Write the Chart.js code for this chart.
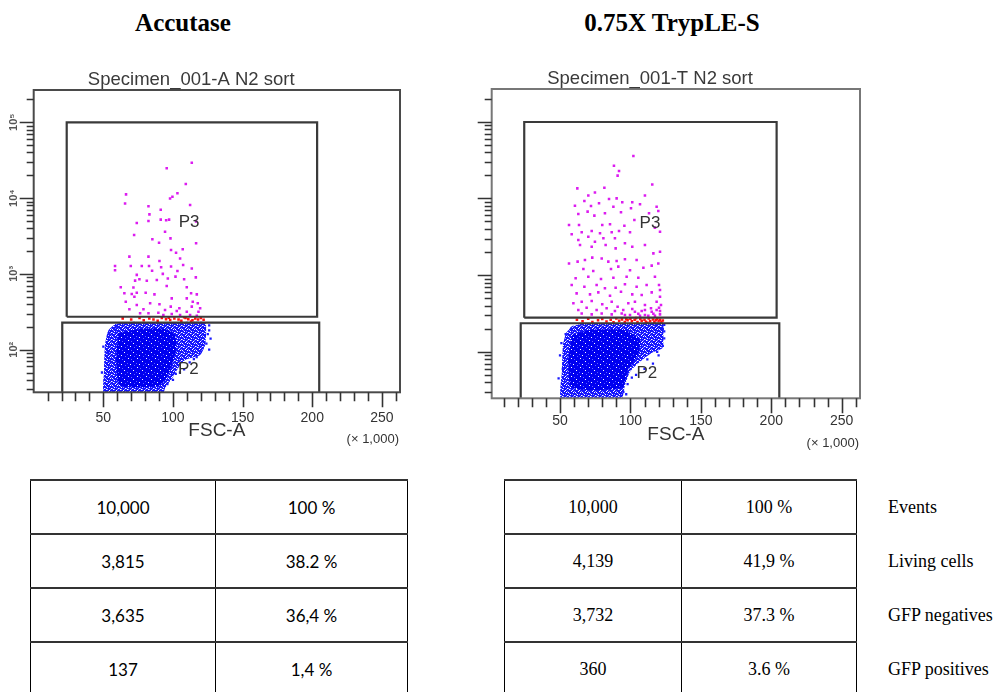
<!DOCTYPE html>
<html><head><meta charset="utf-8">
<script src="https://cdn.jsdelivr.net/npm/chart.js@4.4.1/dist/chart.umd.min.js"></script>
<style>
body{margin:0;width:1000px;height:692px;background:#fff;position:relative;overflow:hidden}
.hdr{position:absolute;top:9px;line-height:30px;font:bold 25px "Liberation Serif","Times New Roman",serif;transform:translateX(-50%);white-space:nowrap;color:#000}
canvas{position:absolute}
table{position:absolute;top:479px;border-collapse:collapse;table-layout:fixed}
tr{height:54px}
td{text-align:center;vertical-align:middle;padding:0;border-left:1px solid #000;border-right:1px solid #000;border-top:2px solid #333}
td.lab{border:none;text-align:left;padding-left:31px;font:18px "Liberation Serif",serif;white-space:nowrap}
#tA td{font:17px Lato,"Open Sans",sans-serif}
#tB td{font:18px "Liberation Serif",serif}
</style></head>
<body>
<div class="hdr" style="left:183px">Accutase</div>
<div class="hdr" style="left:672px">0.75X TrypLE-S</div>
<canvas id="cA" width="420" height="400" style="left:0;top:60px"></canvas>
<canvas id="cB" width="420" height="400" style="left:470px;top:60px"></canvas>
<table id="tA" style="left:30px;width:377px"><colgroup><col style="width:185px"><col style="width:192px"></colgroup><tbody></tbody></table>
<table id="tB" style="left:504px;width:496px"><colgroup><col style="width:177px"><col style="width:175px"><col style="width:144px"></colgroup><tbody></tbody></table>
<script>
// ---------- data ----------
const fscTicks = [50, 100, 150, 200, 250];
const decades = [10, 100, 1000, 10000, 100000];
const decadeLabels = ['10\u00B9', '10\u00B2', '10\u00B3', '10\u2074', '10\u2075'];

const accTitle = 'Specimen_001-A N2 sort';
const tryTitle = 'Specimen_001-T N2 sort';

const accX = [0, 263];
const accY = [27.4, 266700];
const tryX = [1.5, 263];
const tryY = [24.8, 266600];

// gates: [xMin, xMax, yMin, yMax]
const accP3 = [23.7, 203.5, 272, 100000];
const accP2 = [20.5, 205, 20, 227];
const tryP3 = [24.6, 203.8, 279, 99000];
const tryP2 = [22.1, 205.7, 20, 236];
const accGateLabels = [['P3', 111.6, 4840], ['P2', 111, 55.6]];
const tryGateLabels = [['P3', 113.9, 4780], ['P2', 111.7, 53]];

// blue population (GFP negatives): outline of the cloud and of its dense core
const accBlueOuter = [[65.6,230],[83.6,230],[105.1,230],[123.1,230],[123.8,182],[123.1,115],[119.5,85],[108.7,73],[103.7,57],[99.4,42],[94.3,31],[92.2,24],[51.2,24],[50.5,53],[51.2,115],[53.4,177],[58.4,218]];
const accBlueCore = [[60.6,166],[76.4,187],[94.3,187],[101.5,156],[102.2,99],[97.9,54],[90.7,34],[62.0,34],[59.1,73]];
const accBlueDots = [[55,70],[53,90],[50,110],[54,160],[60,200],[58,190],[126,180],[127,140],[124,120],[120,95],[115,75],[108,55],[100,40],[96,35],[62,222],[72,226],[90,224],[110,225],[122,220],[126,210],[49,50],[51,40],[112,68],[105,50],[125,160],[126,100],[117,80],[102,48]];
const tryBlueOuter = [[58.5,217],[67.7,234],[92.6,234],[122.7,234],[123.4,166],[122.7,112],[115.3,97],[106.8,74],[99.7,55],[96.2,37],[92.6,22],[51.4,22],[51.4,58],[52.1,123],[54.2,176]];
const tryBlueCore = [[58.5,166],[71.3,192],[96.1,192],[106.8,143],[105.4,91],[98.3,58],[94.0,34],[58.5,34],[55.7,78]];
const tryBlueDots = [[52,60],[50,90],[51,130],[54,170],[58,200],[123,200],[124,150],[123,120],[120,90],[116,70],[110,60],[104,50],[98,38],[95,30],[65,228],[80,230],[100,231],[118,230],[124,225],[49,45],[112,80],[124,185],[119,100],[101,46],[97,28]];

// red events on the gate border
const accRed = [[63.9,259],[70,250],[76,262],[79,245],[83,258],[86,250],[89,240],[92,262],[95,252],[98,246],[101,258],[104,250],[106,240],[109,262],[111,252],[114,245],[116,258],[118,250],[120,262],[122,248],[97,265],[108,268],[113,235]];
const tryRed = [[62,262],[66,250],[70,270],[73,245],[77,258],[80,268],[83,248],[86,262],[88,242],[90,272],[92,255],[94,265],[96,245],[98,258],[100,270],[101,250],[103,262],[105,244],[107,268],[108,255],[110,262],[111,246],[113,272],[114,252],[116,264],[117,245],[118,258],[119,270],[120,250],[121,262],[122,244],[123,256],[104,275],[112,240],[97,266]];

// magenta events (GFP positives, P3)
const accMagenta = [[113.5,29300],[95.5,24700],[109.2,15300],[103.2,11600],[66.3,11200],[97.9,9900],[65.6,8500],[99.6,10400],[82.4,7800],[112.3,8100],[91.2,7000],[83.1,6100],[97.2,5200],[91.2,5200],[82.4,5000],[95.1,5100],[74.0,4700],[116.6,4900],[94.3,3600],[72.1,3260],[85.2,2860],[90.0,2580],[98.2,2940],[116.6,2530],[107.0,2110],[98.6,2070],[102.2,1900],[68.7,1690],[82.4,1690],[105.1,1600],[90.3,1480],[82.8,1270],[91.5,1220],[58.4,1270],[77.6,1270],[98.6,1250],[69.7,1270],[107.3,1310],[113.5,1180],[58.4,1120],[85.0,1100],[74.0,970],[92.7,1000],[103.2,1090],[101.8,920],[75.9,850],[96.3,870],[81.2,810],[88.4,830],[116.4,900],[108.0,850],[72.8,815],[62.5,665],[71.6,660],[95.5,690],[109.9,665],[74.0,565],[80.4,565],[65.1,555],[70.4,543],[72.3,500],[86.7,537],[113.0,555],[117.1,537],[99.1,475],[109.9,475],[114.2,430],[66.1,430],[83.6,409],[74.0,389],[90.3,397],[117.8,409],[68.7,341],[78.8,341],[98.4,370],[104.6,352],[113.5,370],[119.5,352],[94.3,334],[102.7,324],[89.5,308],[109.9,317],[118.3,317],[76.4,302],[82.4,302],[93.1,287],[99.1,296],[105.1,287],[112.3,287],[117.1,280]];
const tryMagenta = [[102.1,35700],[88.3,26700],[91.9,22800],[90.9,19800],[62.3,13500],[81.5,13800],[70.1,10900],[74.8,11900],[110.3,10900],[115.5,15200],[60.6,8040],[67.3,9250],[72.0,7960],[77.7,8630],[84.8,9820],[90.2,10000],[94.2,8890],[101.3,8890],[106.8,8370],[118.6,7800],[63.0,6270],[69.6,6720],[74.4,5960],[81.9,6390],[87.9,7800],[93.3,6580],[100.4,7430],[113.2,6390],[119.8,6850],[56.4,4500],[63.5,4500],[80.0,4500],[85.5,4590],[95.7,4410],[102.8,5230],[65.4,3610],[72.5,3760],[78.4,3510],[86.7,3610],[91.9,3760],[99.7,3610],[58.3,3400],[63.0,2870],[70.1,3170],[74.8,2730],[80.8,3020],[89.0,3020],[96.1,2600],[117.4,4150],[121.0,3680],[64.2,2470],[72.5,2350],[82.4,2470],[89.5,2230],[101.3,2350],[110.3,2470],[116.3,1920],[121.0,2020],[56.4,1420],[62.5,1500],[67.7,1570],[72.9,1690],[79.6,1650],[84.3,1500],[90.2,1530],[96.1,1610],[104.4,1570],[109.2,1250],[115.1,1330],[119.8,1420],[66.6,1200],[73.6,1130],[86.2,1200],[91.4,1290],[99.7,1160],[61.1,908],[70.1,955],[79.1,890],[87.9,926],[97.3,955],[105.6,926],[117.4,955],[58.3,743],[67.3,707],[76.0,743],[81.9,673],[89.5,686],[96.1,758],[104.4,707],[111.5,743],[120.3,743],[61.8,578],[71.3,561],[77.2,596],[85.5,540],[93.3,608],[101.3,561],[108.0,550],[115.1,596],[121.0,640],[59.5,429],[65.4,451],[72.5,459],[80.0,416],[86.7,451],[90.9,387],[98.5,429],[103.2,451],[110.3,408],[118.6,451],[121.0,524],[63.0,351],[68.9,376],[76.0,351],[83.1,369],[94.9,351],[101.3,361],[108.0,340],[114.6,369],[120.3,376],[65.4,317],[72.5,308],[79.6,317],[86.7,308],[93.8,317],[99.7,302],[105.6,314],[110.3,302],[116.3,314],[121.0,308],[121.7,408],[115.1,333],[118.6,351],[110.3,351],[103.2,333],[96.1,302],[89.0,340],[121.0,340],[117.4,296],[112.7,296],[106.8,296]];

// tables
const accCounts = ['10,000', '3,815', '3,635', '137'];
const accPercents = ['100 %', '38.2 %', '36,4 %', '1,4 %'];
const tryCounts = ['10,000', '4,139', '3,732', '360'];
const tryPercents = ['100 %', '41,9 %', '37.3 %', '3.6 %'];
const rowLabels = ['Events', 'Living cells', 'GFP negatives', 'GFP positives'];

// ---------- tables ----------
function fillTable(id, counts, pcts, labels) {
  const tb = document.querySelector('#' + id + ' tbody');
  counts.forEach((c, i) => {
    const tr = document.createElement('tr');
    const a = document.createElement('td'); a.textContent = c; tr.appendChild(a);
    const b = document.createElement('td'); b.textContent = pcts[i]; tr.appendChild(b);
    if (labels) { const l = document.createElement('td'); l.className = 'lab'; l.textContent = labels[i]; tr.appendChild(l); }
    tb.appendChild(tr);
  });
}
fillTable('tA', accCounts, accPercents, null);
fillTable('tB', tryCounts, tryPercents, rowLabels);

// ---------- speckled fill styles (texture only) ----------
function speckle(base, light, tile, whites, lights) {
  const c = document.createElement('canvas'); c.width = tile; c.height = tile;
  const g = c.getContext('2d');
  g.fillStyle = base; g.fillRect(0, 0, tile, tile);
  g.fillStyle = '#ffffff'; whites.forEach(p => g.fillRect(p[0], p[1], 1, 1));
  g.fillStyle = light; lights.forEach(p => g.fillRect(p[0], p[1], 1, 1));
  return g.createPattern(c, 'repeat');
}
const outerFill = speckle('#1414ff', '#8c8cff', 7,
  [[1,0],[4,1],[0,3],[5,3],[2,5],[6,6],[3,2]], [[2,0],[6,2],[1,4],[4,5],[0,6],[5,0]]);
const coreFill = speckle('#0000f0', '#5a5aff', 9,
  [[2,1],[7,4],[4,7]], [[5,2],[1,6],[8,8]]);

// ---------- charts ----------
const toXY = arr => arr.map(p => ({x: p[0], y: p[1]}));
const rect = g => [{x:g[0],y:g[2]},{x:g[1],y:g[2]},{x:g[1],y:g[3]},{x:g[0],y:g[3]},{x:g[0],y:g[2]}];

const fcsAxes = {
  id: 'fcsAxes',
  afterDraw(chart) {
    const o = chart.options.plugins.fcsAxes;
    const {ctx, chartArea: a} = chart;
    const xs = chart.scales.x, ys = chart.scales.y;
    ctx.save();
    ctx.strokeStyle = o.frameColor; ctx.lineWidth = 2;
    ctx.strokeRect(a.left, a.top, a.right - a.left, a.bottom - a.top);
    ctx.strokeStyle = '#333'; ctx.lineWidth = 1.6;
    ctx.beginPath();
    for (let v = 10; v <= 260; v += 10) {
      const px = Math.round(xs.getPixelForValue(v)) + 0.5;
      if (px < a.left + 1 || px > a.right - 1) continue;
      const len = v % 50 === 0 ? 15 : 9;
      ctx.moveTo(px, a.bottom); ctx.lineTo(px, a.bottom + len);
    }
    decades.forEach(d => {
      for (let m = 1; m <= 9; m++) {
        const v = d * m;
        if (v < ys.min || v > ys.max) continue;
        const py = Math.round(ys.getPixelForValue(v)) + 0.5;
        const len = m === 1 ? 14 : 7;
        ctx.moveTo(a.left, py); ctx.lineTo(a.left - len, py);
      }
    });
    ctx.stroke();
    ctx.fillStyle = '#333';
    ctx.textAlign = 'center'; ctx.textBaseline = 'middle';
    ctx.font = '14px "Liberation Sans", Arial, sans-serif';
    fscTicks.forEach(v => ctx.fillText(String(v), xs.getPixelForValue(v), a.bottom + o.tickLabelDy));
    ctx.font = '19px "Liberation Sans", Arial, sans-serif';
    ctx.fillText('FSC-A', (a.left + a.right) / 2, a.bottom + o.xTitleDy);
    ctx.font = '13px "Liberation Sans", Arial, sans-serif';
    ctx.textAlign = 'right';
    ctx.fillText('(\u00D7 1,000)', a.right - 1, a.bottom + o.xTitleDy + 9);
    ctx.textAlign = 'center';
    ctx.font = '18.5px "Liberation Sans", Arial, sans-serif';
    ctx.fillStyle = '#3a3a3a';
    ctx.fillText(o.title, a.left + o.titleFrac * (a.right - a.left), a.top - 10);
    if (o.yLabels) {
      ctx.font = 'bold 11px "Liberation Sans", Arial, sans-serif';
      ctx.fillStyle = '#555';
      decades.forEach((d, i) => {
        if (d < ys.min || d > ys.max) return;
        const py = ys.getPixelForValue(d);
        ctx.save(); ctx.translate(a.left - 20, py); ctx.rotate(-Math.PI / 2);
        ctx.fillText(decadeLabels[i], 0, 0); ctx.restore();
      });
    }
    ctx.fillStyle = '#333';
    ctx.font = '17px "Liberation Sans", Arial, sans-serif';
    o.gateLabels.forEach(g => ctx.fillText(g[0], xs.getPixelForValue(g[1]), ys.getPixelForValue(g[2])));
    ctx.restore();
  }
};

function makePlot(id, cfg) {
  const dot = (data, color, r, order) => ({type: 'scatter', data: toXY(data), backgroundColor: color, borderWidth: 0, pointRadius: r, pointStyle: 'rect', order});
  const poly = (data, fillStyle, order) => ({type: 'line', data: toXY(data), borderColor: 'rgba(0,0,0,0)', borderWidth: 0, backgroundColor: fillStyle, fill: 'shape', pointRadius: 0, tension: 0.2, order});
  const gate = (g, order) => ({type: 'line', data: rect(g), borderColor: '#3a3a3a', borderWidth: 2.2, fill: false, pointRadius: 0, tension: 0, order});
  new Chart(document.getElementById(id), {
    type: 'scatter',
    data: {datasets: [
      gate(cfg.p3, 0), gate(cfg.p2, 0),
      dot(cfg.magenta, '#dc1cf0', 1.8, 1),
      dot(cfg.red, '#ff1010', 1.8, 2),
      dot(cfg.blueDots, '#1a1aff', 1.6, 3),
      poly(cfg.core, coreFill, 4),
      poly(cfg.outer, outerFill, 5)
    ]},
    options: {
      responsive: false, animation: false, devicePixelRatio: 1, events: [],
      layout: {padding: cfg.pad},
      scales: {
        x: {type: 'linear', min: cfg.xr[0], max: cfg.xr[1], display: false},
        y: {type: 'logarithmic', min: cfg.yr[0], max: cfg.yr[1], display: false}
      },
      plugins: {
        legend: {display: false}, tooltip: {enabled: false},
        fcsAxes: {title: cfg.title, titleFrac: 0.43, frameColor: cfg.frame, yLabels: cfg.yLabels,
                  gateLabels: cfg.gateLabels, tickLabelDy: cfg.tickDy, xTitleDy: cfg.titleDy}
      }
    },
    plugins: [fcsAxes]
  });
}

makePlot('cA', {title: accTitle, xr: accX, yr: accY, p3: accP3, p2: accP2, magenta: accMagenta, red: accRed,
  blueDots: accBlueDots, core: accBlueCore, outer: accBlueOuter, gateLabels: accGateLabels,
  pad: {left: 33.7, top: 30, right: 20, bottom: 67.7}, frame: '#4a4a4a', yLabels: true, tickDy: 25.5, titleDy: 38.5});
makePlot('cB', {title: tryTitle, xr: tryX, yr: tryY, p3: tryP3, p2: tryP2, magenta: tryMagenta, red: tryRed,
  blueDots: tryBlueDots, core: tryBlueCore, outer: tryBlueOuter, gateLabels: tryGateLabels,
  pad: {left: 21.7, top: 29, right: 30, bottom: 61.7}, frame: '#777', yLabels: false, tickDy: 22.5, titleDy: 36.5});
</script>
</body></html>
